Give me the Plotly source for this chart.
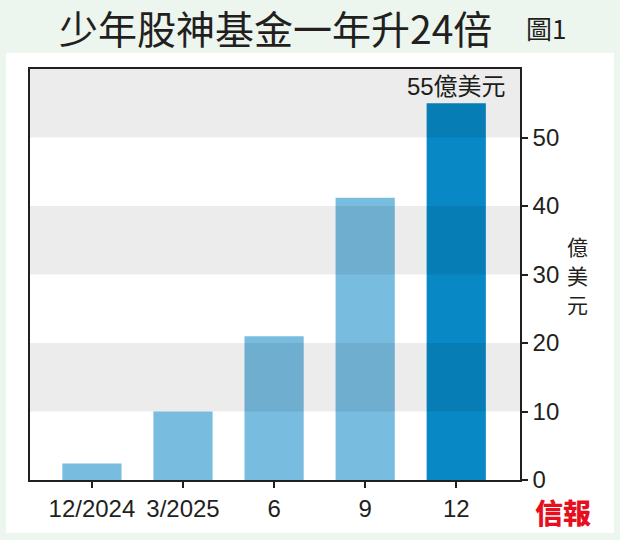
import plotly.graph_objects as go

# ---- data ----
categories = ["12/2024", "3/2025", "6", "9", "12"]
values = [2.4, 10.0, 21.0, 41.2, 55.0]
bar_labels = ["", "", "", "", "55億美元"]
y_ticks = [0, 10, 20, 30, 40, 50]
bands = [(10, 20), (30, 40), (50, 60)]

title_text = "少年股神基金一年升24倍"
fig_no = "圖1"
unit_text = "億美元"
logo_text = "信報"

# ---- style ----
light = "#78bde0"
dark = "#0888c5"
bar_colors = [light, light, light, light, dark]
ink = "#231f20"
num_font = "Liberation Sans, Arial, Noto Sans CJK TC, sans-serif"
cjk_font = "Noto Sans CJK TC, Noto Sans CJK SC, sans-serif"
halo = "1px 1px 1px #fff, -1px -1px 1px #fff, 1px -1px 1px #fff, -1px 1px 1px #fff, 0 0 3px #fff"

fig = go.Figure()
fig.add_trace(go.Bar(
    x=categories, y=values, width=0.65,
    marker=dict(color=bar_colors, line=dict(width=0)),
    text=bar_labels, texttemplate="%{text}", textposition="outside",
    constraintext="none",
    textfont=dict(family=num_font, size=24, color=ink, shadow=halo),
    cliponaxis=False, hoverinfo="skip",
))

shapes = [
    # white panel
    dict(type="rect", xref="paper", yref="paper", x0=-0.049, x1=1.192, y0=-0.129, y1=1.039,
         fillcolor="white", line=dict(width=0), layer="below"),
]
for lo, hi in bands:
    shapes.append(dict(type="rect", xref="paper", yref="y", x0=0, x1=1, y0=lo, y1=hi,
                       fillcolor="black", opacity=0.075, line=dict(width=0), layer="above"))

annotations = [
    dict(text=title_text, xref="paper", yref="paper", x=0.502, y=1.102, xanchor="center", yanchor="middle",
         showarrow=False, font=dict(family=cjk_font, size=39, color=ink)),
    dict(text=fig_no, xref="paper", yref="paper", x=1.008, y=1.10, xanchor="left", yanchor="middle",
         showarrow=False, font=dict(family=cjk_font, size=26, color=ink)),
    dict(text=logo_text, xref="paper", yref="paper", x=1.088, y=-0.078,
         xanchor="center", yanchor="middle", showarrow=False,
         font=dict(family=cjk_font, size=28, color="#e60f1e", weight=900)),
]
# vertical unit label, one character per line
unit_y = [0.569, 0.499, 0.429]
for ch, yy in zip(unit_text, unit_y):
    annotations.append(dict(text=ch, xref="paper", yref="paper", x=1.118, y=yy,
                            xanchor="center", yanchor="middle", showarrow=False,
                            font=dict(family=cjk_font, size=21, color=ink)))

fig.update_layout(
    width=620, height=540,
    margin=dict(l=30, r=100, t=69, b=60),
    paper_bgcolor="#ecf5ee", plot_bgcolor="white",
    showlegend=False, bargap=0.35,
    shapes=shapes, annotations=annotations,
    xaxis=dict(type="category", range=[-0.68, 4.70], showline=True, mirror=True,
               linecolor=ink, linewidth=1.5, ticks="outside", ticklen=6, tickcolor=ink,
               tickwidth=1.5, tickfont=dict(family=num_font, size=24, color=ink),
               showgrid=False, zeroline=False, fixedrange=True),
    yaxis=dict(range=[0, 60], side="right", tickvals=y_ticks, showline=True, mirror=True,
               linecolor=ink, linewidth=1.5, ticks="outside", ticklen=6, tickcolor=ink,
               tickwidth=1.5, tickfont=dict(family=num_font, size=24, color=ink),
               showgrid=False, zeroline=False, fixedrange=True),
)

fig.write_html(
    "out.html",
    config={"displayModeBar": False},
    post_script="document.body.style.margin='0';document.body.style.overflow='hidden';"
                "document.body.style.background='#ecf5ee';",
)
